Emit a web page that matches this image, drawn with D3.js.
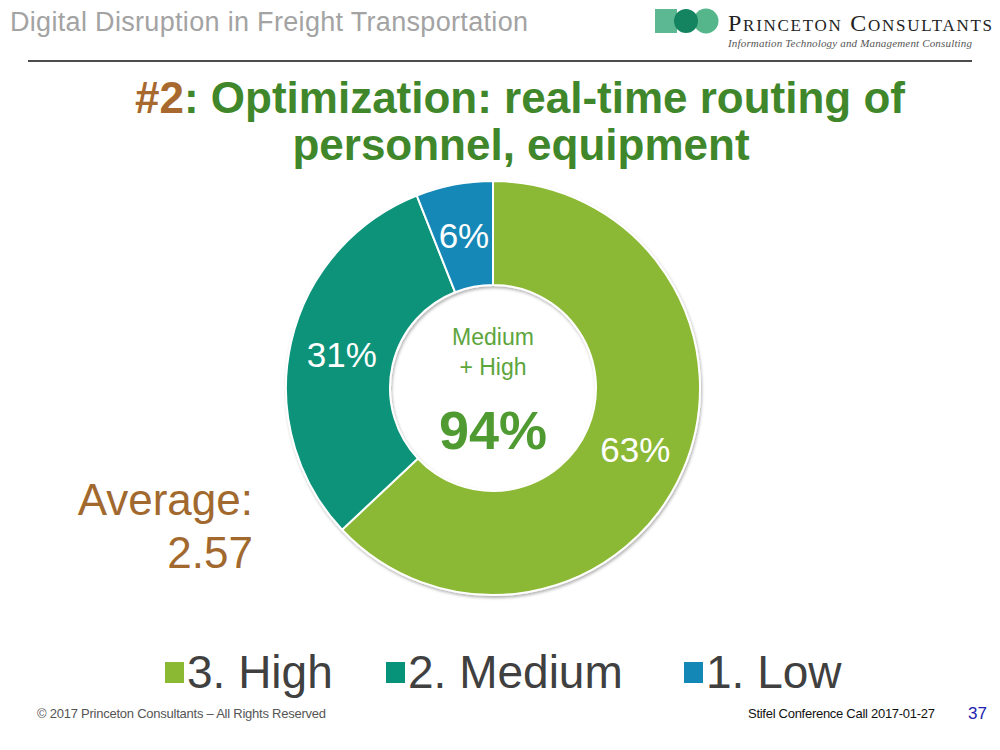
<!DOCTYPE html>
<html>
<head>
<meta charset="utf-8">
<script src="https://cdn.jsdelivr.net/npm/d3@7"></script>
<style>
  body { margin: 0; background: #fff; }
  svg { display: block; font-family: "Liberation Sans", Arial, sans-serif; }
</style>
</head>
<body>
<svg id="chart" width="1000" height="750"></svg>
<script>
// data
const categories = ["3. High", "2. Medium", "1. Low"];
const values = [63, 31, 6];
const centerLines = ["Medium", "+ High"];
const centerValue = "94%";
const averageLines = ["Average:", "2.57"];

let svg = d3.select('#chart');

let color = d3.scaleOrdinal()
    .domain(categories)
    .range(['#8cb934', '#07937a', '#1388b7']);

// header
svg.append('text')
    .attr('x', 10).attr('y', 31)
    .style('font-size', '27px')
    .attr('textLength', 518)
    .attr('fill', '#a3a3a3')
    .text('Digital Disruption in Freight Transportation');

svg.append('line')
    .attr('x1', 28).attr('x2', 972)
    .attr('y1', 61).attr('y2', 61)
    .attr('stroke', '#111').attr('stroke-width', 1.5);

// logo
let logo = svg.append('g');
logo.append('rect').attr('x', 655).attr('y', 9).attr('width', 22).attr('height', 24).attr('fill', '#5cb892');
logo.append('circle').attr('cx', 706).attr('cy', 21).attr('r', 12.5).attr('fill', '#55b68c');
logo.append('circle').attr('cx', 686).attr('cy', 21).attr('r', 12).attr('fill', '#148460');
logo.append('text')
    .attr('x', 728).attr('y', 31)
    .style('font-family', '"Liberation Serif", "DejaVu Serif", serif')
    .style('font-size', '24px')
    .style('font-variant', 'small-caps')
    .attr('textLength', 264)
    .attr('fill', '#222')
    .text('Princeton Consultants');
logo.append('text')
    .attr('x', 728).attr('y', 47)
    .style('font-family', '"Liberation Serif", "DejaVu Serif", serif')
    .style('font-size', '11px')
    .style('font-style', 'italic')
    .attr('textLength', 244)
    .attr('fill', '#555')
    .text('Information Technology and Management Consulting');

// title
let title = svg.append('text')
    .attr('text-anchor', 'middle')
    .style('font-size', '44px')
    .style('font-weight', 'bold')
    .attr('fill', '#40872b');
let t1 = title.append('tspan').attr('x', 520).attr('y', 113);
t1.append('tspan').attr('fill', '#a8692e').text('#2');
t1.append('tspan').text(': Optimization: real-time routing of');
title.append('tspan').attr('x', 521).attr('y', 160).text('personnel, equipment');

// donut
let cx = 493, cy = 388;
let outerR = 207, innerR = 103;

let defs = svg.append('defs');
let f = defs.append('filter').attr('id', 'shadow').attr('x', '-10%').attr('y', '-10%').attr('width', '120%').attr('height', '120%');
f.append('feDropShadow').attr('dx', 1).attr('dy', 2).attr('stdDeviation', 1.5).attr('flood-color', '#000').attr('flood-opacity', 0.3);

let pie = d3.pie().sort(null).value(d => d.value);
let arc = d3.arc().innerRadius(innerR).outerRadius(outerR);
let slices = pie(categories.map((c, i) => ({ cat: c, value: values[i] })));

let g = svg.append('g').attr('transform', `translate(${cx},${cy})`);

g.append('g').attr('filter', 'url(#shadow)')
    .selectAll('path')
    .data(slices)
    .enter()
    .append('path')
    .attr('d', arc)
    .attr('fill', d => color(d.data.cat))
    .attr('stroke', '#fff')
    .attr('stroke-width', 2);

g.selectAll('.lbl')
    .data(slices)
    .enter()
    .append('text')
    .attr('class', 'lbl')
    .attr('transform', d => `translate(${arc.centroid(d)})`)
    .attr('text-anchor', 'middle')
    .attr('dy', '0.36em')
    .style('font-size', '35px')
    .attr('fill', '#fff')
    .text(d => d.data.value + '%');

// center
g.selectAll('.ctr')
    .data(centerLines)
    .enter()
    .append('text')
    .attr('class', 'ctr')
    .attr('text-anchor', 'middle')
    .attr('y', (d, i) => -43 + i * 30)
    .style('font-size', '23px')
    .attr('fill', '#5da53d')
    .text(d => d);
g.append('text')
    .attr('text-anchor', 'middle')
    .attr('y', 61)
    .style('font-size', '54px')
    .style('font-weight', 'bold')
    .attr('fill', '#4f9b32')
    .text(centerValue);

// average
svg.selectAll('.avg')
    .data(averageLines)
    .enter()
    .append('text')
    .attr('class', 'avg')
    .attr('x', 253)
    .attr('y', (d, i) => 515 + i * 53)
    .attr('text-anchor', 'end')
    .style('font-size', '44px')
    .attr('fill', '#a2692f')
    .text(d => d);

// legend
let legendX = d3.scaleOrdinal().domain(categories).range([165, 386, 684]);
let leg = svg.selectAll('.leg')
    .data(categories)
    .enter()
    .append('g')
    .attr('class', 'leg')
    .attr('transform', d => `translate(${legendX(d)},0)`);
leg.append('rect')
    .attr('x', 0).attr('y', 662)
    .attr('width', 19).attr('height', 21)
    .attr('fill', d => color(d));
leg.append('text')
    .attr('x', 22).attr('y', 688)
    .style('font-size', '46px')
    .attr('fill', '#404040')
    .text(d => d);

// footer
svg.append('text')
    .attr('x', 37).attr('y', 718)
    .style('font-family', '"Liberation Sans Narrow", "Arial Narrow", "Liberation Sans", sans-serif')
    .style('font-size', '13px')
    .attr('textLength', 289)
    .attr('fill', '#555')
    .text('\u00a9 2017 Princeton Consultants \u2013 All Rights Reserved');
svg.append('text')
    .attr('x', 748).attr('y', 718)
    .style('font-family', '"Liberation Sans Narrow", "Arial Narrow", "Liberation Sans", sans-serif')
    .style('font-size', '13px')
    .attr('textLength', 187)
    .attr('fill', '#111')
    .text('Stifel Conference Call 2017-01-27');
svg.append('text')
    .attr('x', 968).attr('y', 719)
    .style('font-family', '"Liberation Sans Narrow", "Arial Narrow", "Liberation Sans", sans-serif')
    .style('font-size', '17px')
    .attr('fill', '#2222b0')
    .text('37');
</script>
</body>
</html>
